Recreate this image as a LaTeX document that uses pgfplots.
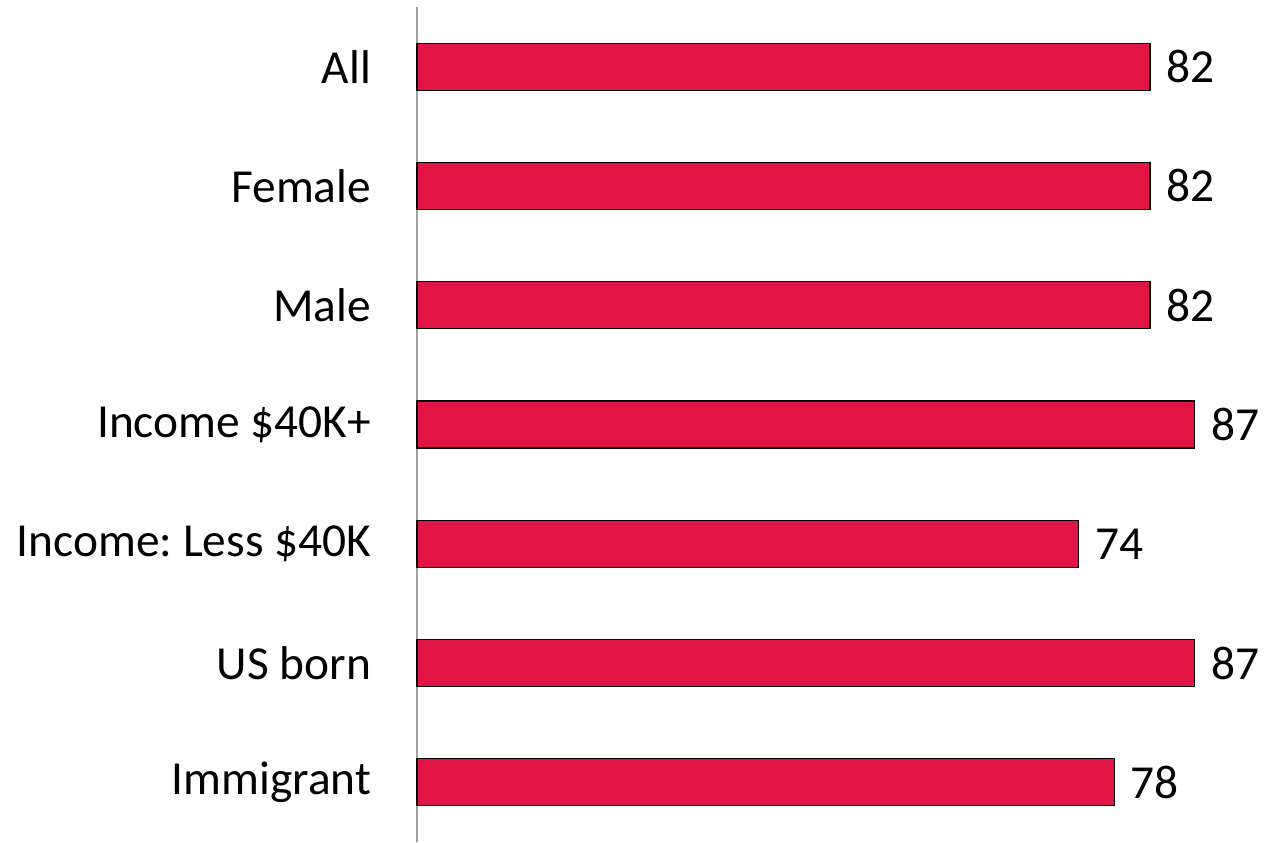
\documentclass[border=0pt]{standalone}
\usepackage{pgfplots}
\pgfplotsset{compat=1.18}
\usepackage{fontspec}
\setmainfont{Carlito}
\frenchspacing
\definecolor{barred}{RGB}{225,20,70}
\definecolor{axgray}{RGB}{160,160,160}
\begin{document}
\begin{tikzpicture}
\useasboundingbox (-208.5pt,0) rectangle (429.5pt,421pt);
\begin{axis}[
  at={(0,0)}, anchor=south west,
  scale only axis,
  width=429.5pt, height=417.5pt,
  xmin=0, xmax=96.1,
  ymin=-0.5, ymax=6.5,
  xbar, bar width=23.5pt,
  hide x axis,
  axis y line*=left,
  axis line style={draw=axgray, line width=0.9pt},
  y axis line style={-},
  ytick={0,1,2,3,4,5,6},
  yticklabels={Immigrant,US born,Income:\ Less \$40K,Income \$40K+,Male,Female,All},
  ytick style={draw=none},
  yticklabel style={font=\fontsize{23.7}{28}\selectfont, inner sep=0pt, anchor=east, xshift=-18.5pt},
  /pgf/number format/assume math mode=true,
  nodes near coords,
  nodes near coords style={font=\fontsize{23.7}{28}\selectfont, inner sep=0pt, anchor=west, xshift=8pt, text=black},
  clip=false,
]
\addplot[fill=barred, draw=black, line width=0.6pt] coordinates {
  (78,0) (87,1) (74,2) (87,3) (82,4) (82,5) (82,6)
};
\end{axis}
\end{tikzpicture}
\end{document}
